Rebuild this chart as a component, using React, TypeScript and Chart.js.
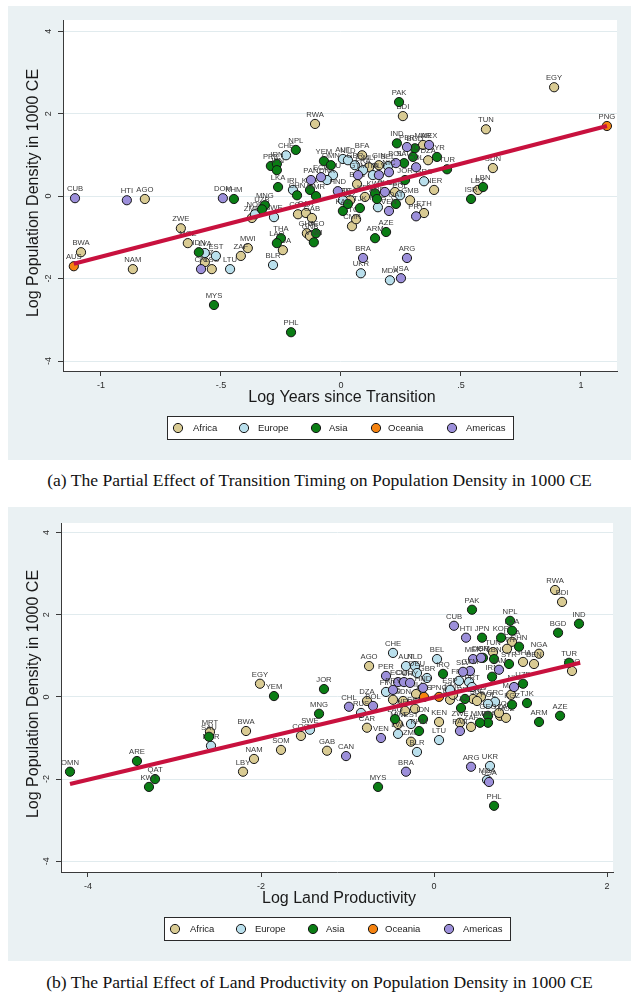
import React, { useEffect, useRef } from "react";
import { Chart, registerables } from "chart.js";

Chart.register(...registerables);

// ---------- shared categories / ticks ----------
const REGIONS = ["Africa", "Europe", "Asia", "Oceania", "Americas"];
const REGION_COLORS = ["#D9CB93", "#B9DFEC", "#0A7D14", "#F5820F", "#9C8FDA"];

const yTickValues = [-4, -2, 0, 2, 4];
const yTickLabels = ["-4", "-2", "0", "2", "4"];
const transTickValues = [-1, -0.5, 0, 0.5, 1];
const transTickLabels = ["-1", "-.5", "0", ".5", "1"];
const landTickValues = [-4, -2, 0, 2];
const landTickLabels = ["-4", "-2", "0", "2"];

// ---------- panel (a): transition timing ----------
const transCodes = [
  "CUB", "HTI", "DOM", "CRI", "PAN", "ECU", "HND", "GTM", "SLV", "NIC", "BOL", "PER", "MEX", "COL", "CHL", "VEN", "PRY", "BRA", "ARG", "USA",
  "AUS", "PNG",
  "AGO", "RWA", "BDI", "EGY", "TUN", "SDN", "LBY", "NER", "DZA", "MAR", "ETH", "BFA", "GIN", "MLI", "ZWE", "MOZ", "BWA", "NAM", "SWZ", "LSO", "ZAF", "MWI", "ZMB", "UGA", "COG", "CAR", "GAB", "GHA", "GNB", "CMR", "TCD", "KEN", "TGO", "GMB", "SEN", "BEN",
  "CHE", "IRL", "NOR", "SWE", "LVA", "EST", "LTU", "BLR", "UKR", "MDA", "AUT", "DEU", "DNK", "BEL", "NLD", "GBR", "FRA", "ITA", "ESP", "RUS", "GRC", "POL",
  "KHM", "NPL", "PRK", "IRN", "JPN", "LKA", "CHN", "KOR", "MMR", "MNG", "UZB", "IDN", "THA", "LAO", "MYS", "PHL", "GEO", "VNM", "YEM", "OMN", "PAK", "IND", "BGD", "IRQ", "SYR", "TUR", "SAU", "JOR", "KWT", "ARE", "QAT", "KAZ", "KGZ", "TJK", "ARM", "AZE", "LBN", "ISR",
];
const transX = [
  -1.108, -0.892, -0.492, -0.583, -0.125, -0.083, -0.013, 0.071, 0.158, 0.2, 0.229, 0.275, 0.367, 0.313, 0.183, 0.2, 0.313, 0.092, 0.275, 0.25,
  -1.113, 1.108,
  -0.817, -0.108, 0.258, 0.888, 0.604, 0.633, 0.571, 0.388, 0.363, 0.342, 0.346, 0.088, 0.158, 0.117, -0.667, -0.638, -1.083, -0.867, -0.567, -0.538, -0.417, -0.388, -0.371, -0.242, -0.179, -0.146, -0.121, -0.142, -0.129, 0.046, 0.063, 0.1, 0.038, 0.288, 0.225, 0.067,
  -0.229, -0.2, -0.358, -0.279, -0.567, -0.521, -0.462, -0.283, 0.083, 0.204, 0.008, -0.033, -0.058, 0.196, 0.029, 0.058, 0.092, 0.133, 0.008, 0.154, 0.346, 0.246,
  -0.446, -0.188, -0.292, -0.267, -0.267, -0.262, -0.183, -0.129, -0.104, -0.317, -0.329, -0.592, -0.25, -0.267, -0.529, -0.208, -0.104, -0.113, -0.071, -0.042, 0.242, 0.233, 0.308, 0.3, 0.4, 0.442, 0.263, 0.267, 0.142, 0.15, 0.229, 0.008, 0.029, 0.079, 0.142, 0.188, 0.592, 0.542,
];
const transY = [
  -0.05, -0.1, -0.05, -1.77, 0.39, 0.46, 0.12, 0.51, 0.51, 0.58, 0.8, 1.19, 1.24, 0.7, 0.1, -0.36, -0.49, -1.5, -1.5, -1.99,
  -1.7, 1.7,
  -0.07, 1.75, 1.94, 2.64, 1.62, 0.68, 0.15, 0.15, 0.87, 1.24, -0.41, 0.99, 0.75, 0.7, -0.78, -1.14, -1.36, -1.77, -1.6, -1.77, -1.45, -1.26, -0.53, -1.31, -0.44, -0.41, -0.53, -0.9, -0.97, -0.73, -0.56, -0.02, -0.1, -0.1, 0.1, 0.29,
  0.99, 0.15, -0.44, -0.51, -1.38, -1.45, -1.77, -1.67, -1.87, -2.04, 0.9, 0.51, 0.39, 0.73, 0.87, 0.75, 0.63, 0.51, -0.1, -0.27, 0.36, 0.02,
  -0.07, 1.12, 0.73, 0.78, 0.63, 0.22, 0.02, 0.15, 0.0, -0.22, -0.32, -1.36, -1.02, -1.14, -2.64, -3.3, -0.9, -1.12, 0.85, 0.75, 2.28, 1.28, 1.16, 0.95, 0.95, 0.65, 0.8, 0.39, 0.07, -0.07, -0.19, -0.36, -0.19, -0.29, -1.02, -0.87, 0.22, -0.07,
];
const transRegion = [
  ...Array(20).fill("Americas"),
  "Oceania", "Oceania",
  ...Array(36).fill("Africa"),
  ...Array(22).fill("Europe"),
  ...Array(38).fill("Asia"),
];
const transFitX = [-1.113, 1.108];
const transFitY = [-1.64, 1.7];

// ---------- panel (b): land productivity ----------
const landCodes = [
  "OMN", "ARE", "QAT", "KWT", "SAU", "YEM", "MNG", "JOR", "MYS", "PAK", "NPL", "LKA", "JPN", "KOR", "CHN", "BGD", "IND", "TUR", "AZE", "ARM", "PHL", "IRQ", "IDN", "LAO", "KHM", "SYR", "LBN", "ISR", "IRN", "UZB", "TJK", "KGZ", "GEO", "THA", "MMR", "KAZ", "PRK",
  "EGY", "MRT", "BWA", "NAM", "LBY", "SOM", "COG", "GAB", "AGO", "DZA", "CAR", "TCD", "SDN", "MLI", "NER", "SEN", "MWI", "ZMB", "KEN", "RWA", "BDI", "NGA", "BEN", "GHA", "UGA", "ETH", "TUN", "TGO", "MAR", "TZA", "MOZ", "CIV", "GIN", "ZAF", "ZWE", "BFA", "CMR", "SLE", "LSO",
  "NOR", "SWE", "RUS", "CHE", "AUT", "NLD", "DEU", "GBR", "BEL", "FIN", "LVA", "EST", "BLR", "LTU", "UKR", "MDA", "FRA", "ITA", "ESP", "PRT", "GRC", "POL",
  "CUB", "HTI", "CHL", "BOL", "CAN", "VEN", "PER", "BRA", "ARG", "USA", "ECU", "COL", "URY", "PRY", "HND", "MEX", "DOM", "GTM", "SLV", "JAM", "NIC", "PAN",
  "AUS", "PNG",
];
const landX = [
  -4.208, -3.434, -3.225, -3.295, -2.601, -1.85, -1.329, -1.272, -0.647, 0.439, 0.879, 0.902, 0.555, 0.775, 0.983, 1.434, 1.676, 1.561, 1.457, 1.214, 0.694, 0.104, -0.127, -0.451, -0.173, 0.867, 0.694, 0.566, 0.671, 1.029, 1.075, 0.902, 0.624, 0.624, 0.532, 0.312, 0.358,
  -2.012, -2.59, -2.173, -2.081, -2.208, -1.769, -1.538, -1.237, -0.751, -0.775, -0.775, -0.474, -0.358, -0.208, -0.335, -0.22, -0.416, -0.266, 0.058, 1.399, 1.48, 1.214, 1.156, 1.029, 0.902, 0.844, 0.682, 1.595, 0.89, 0.763, 0.832, 0.543, 0.451, 0.428, 0.3, 0.185, 0.22, 0.497, 0.751,
  -2.578, -1.434, -0.844, -0.474, -0.324, -0.22, -0.197, -0.081, 0.035, -0.555, -0.416, -0.266, -0.197, 0.058, 0.647, 0.613, 0.289, 0.405, 0.185, 0.439, 0.705, 0.624,
  0.231, 0.37, -0.983, -0.705, -1.017, -0.613, -0.555, -0.324, 0.428, 0.636, -0.416, -0.347, -0.277, -0.474, -0.127, 0.451, 0.543, 0.416, 0.335, 0.751, 0.925, 0.3,
  -0.116, 0.058,
];
const landY = [
  -1.82, -1.56, -2.0, -2.19, -0.97, 0.02, -0.41, 0.19, -2.19, 2.12, 1.85, 1.61, 1.44, 1.44, 1.22, 1.56, 1.78, 0.83, -0.46, -0.61, -2.65, 0.56, -0.54, -0.54, -0.83, 0.8, 0.92, 0.95, 0.49, 0.32, -0.15, -0.19, -0.46, -0.63, -0.63, -0.27, -0.05,
  0.32, -0.85, -0.83, -1.51, -1.82, -1.29, -0.95, -1.31, 0.75, -0.1, -0.75, -0.07, -0.1, 0.07, -0.34, -0.29, -0.66, -1.09, -0.61, 2.6, 2.31, 1.05, 0.8, 0.85, 1.34, 1.17, 1.09, 0.63, 0.05, -0.46, -0.51, 0.0, -0.05, -0.73, -0.63, -0.07, 0.05, -0.1, -0.39,
  -1.19, -0.8, -0.39, 1.07, 0.75, 0.75, 0.58, 0.46, 0.92, 0.12, -0.9, -0.66, -1.34, -1.05, -1.68, -2.02, 0.39, 0.36, 0.17, 0.24, -0.12, -0.17,
  1.73, 1.44, -0.24, -0.22, -1.44, -1.0, 0.51, -1.82, -1.7, -2.07, 0.36, 0.36, 0.34, 0.17, 0.22, 0.92, 0.95, 0.63, 0.61, 0.66, 0.24, -0.83,
  0.0, 0.0,
];
const landRegion = [
  ...Array(37).fill("Asia"),
  ...Array(39).fill("Africa"),
  ...Array(22).fill("Europe"),
  ...Array(22).fill("Americas"),
  "Oceania", "Oceania",
];
const landFitX = [-4.208, 1.69];
const landFitY = [-2.12, 0.83];

// ---------- styling ----------
const PANEL_BG = "#EAF1F3";
const GRID_COLOR = "#E1EBEE";
const AXIS_COLOR = "#3a3a3a";
const LINE_COLOR = "#C8113E";
const SANS = "'Liberation Sans', Arial, sans-serif";
const W = 623;
const H = 454;

type Area = { left: number; top: number; right: number; bottom: number };

type PanelProps = {
  codes: string[];
  xs: number[];
  ys: number[];
  regions: string[];
  fitX: number[];
  fitY: number[];
  xMin: number;
  xMax: number;
  yMin: number;
  yMax: number;
  xTickValues: number[];
  xTickLabels: string[];
  xTitle: string;
  area: Area;
  legendLeft: number;
};

function Panel(props: PanelProps) {
  const ref = useRef<HTMLCanvasElement | null>(null);

  useEffect(() => {
    const canvas = ref.current;
    if (!canvas) return;
    const { codes, xs, ys, regions, fitX, fitY, area } = props;

    const datasets: any[] = REGIONS.map((r, i) => {
      const idx = regions.map((g, k) => (g === r ? k : -1)).filter((k) => k >= 0);
      return {
        type: "scatter",
        label: r,
        data: idx.map((k) => ({ x: xs[k], y: ys[k], code: codes[k] })),
        backgroundColor: REGION_COLORS[i],
        borderColor: "#151515",
        borderWidth: 1,
        pointRadius: 4.6,
        order: 5 - i,
      };
    });
    datasets.push({
      type: "scatter",
      label: "fit",
      data: fitX.map((x, k) => ({ x, y: fitY[k] })),
      showLine: true,
      borderColor: LINE_COLOR,
      backgroundColor: LINE_COLOR,
      borderWidth: 4,
      pointRadius: 0,
      order: 0,
    });

    const deco = {
      id: "deco",
      beforeDraw(chart: any) {
        const { ctx, chartArea } = chart;
        ctx.save();
        ctx.fillStyle = PANEL_BG;
        ctx.fillRect(0, 0, W, H);
        ctx.fillStyle = "#ffffff";
        ctx.fillRect(chartArea.left, chartArea.top, chartArea.right - chartArea.left, chartArea.bottom - chartArea.top);
        ctx.restore();
      },
      afterDatasetDraw(chart: any, args: any) {
        const ds = chart.data.datasets[args.index];
        if (ds.label === "fit") return;
        const ctx = chart.ctx;
        ctx.save();
        ctx.font = `7.7px ${SANS}`;
        ctx.fillStyle = "#3a3a3a";
        ctx.textAlign = "center";
        ctx.textBaseline = "alphabetic";
        args.meta.data.forEach((el: any, k: number) => {
          ctx.fillText(ds.data[k].code, el.x, el.y - 7);
        });
        ctx.restore();
      },
      afterDraw(chart: any) {
        const { ctx, chartArea, scales } = chart;
        ctx.save();
        ctx.fillStyle = "#2a2a2a";
        // tick labels
        ctx.font = `9px ${SANS}`;
        ctx.textAlign = "center";
        ctx.textBaseline = "middle";
        props.xTickValues.forEach((v, k) => {
          ctx.fillText(props.xTickLabels[k], scales.x.getPixelForValue(v), chartArea.bottom + 15);
        });
        yTickValues.forEach((v, k) => {
          ctx.save();
          ctx.translate(chartArea.left - 14, scales.y.getPixelForValue(v));
          ctx.rotate(-Math.PI / 2);
          ctx.fillText(yTickLabels[k], 0, 0);
          ctx.restore();
        });
        // axis titles
        ctx.fillStyle = "#1a1a1a";
        ctx.font = `16px ${SANS}`;
        ctx.fillText(props.xTitle, (chartArea.left + chartArea.right) / 2 + 2, 392);
        ctx.save();
        ctx.translate(25.5, 187);
        ctx.rotate(-Math.PI / 2);
        ctx.fillText("Log Population Density in 1000 CE", 0, 0);
        ctx.restore();
        // legend
        const L = props.legendLeft;
        const top = 410;
        const h = 23;
        ctx.fillStyle = "#ffffff";
        ctx.fillRect(L, top, 346, h);
        ctx.strokeStyle = "#2a2a2a";
        ctx.lineWidth = 1;
        ctx.strokeRect(L + 0.5, top + 0.5, 346, h);
        const circleX = [11, 77, 149, 209, 285];
        const textX = [26, 91, 162, 221, 299];
        ctx.font = `9.5px ${SANS}`;
        ctx.textAlign = "left";
        ctx.textBaseline = "middle";
        REGIONS.forEach((r, i) => {
          const cy = top + h / 2 + 0.5;
          ctx.beginPath();
          ctx.arc(L + circleX[i], cy, 4.6, 0, Math.PI * 2);
          ctx.fillStyle = REGION_COLORS[i];
          ctx.fill();
          ctx.strokeStyle = "#151515";
          ctx.stroke();
          ctx.fillStyle = "#1a1a1a";
          ctx.fillText(r, L + textX[i], cy);
        });
        ctx.restore();
      },
    };

    const chart = new Chart(canvas, {
      type: "scatter",
      data: { datasets },
      options: {
        animation: false,
        responsive: false,
        devicePixelRatio: 1,
        events: [],
        layout: { padding: { top: area.top, right: W - area.right, left: 0, bottom: 0 } },
        plugins: { legend: { display: false }, tooltip: { enabled: false } },
        scales: {
          x: {
            type: "linear",
            position: "bottom",
            min: props.xMin,
            max: props.xMax,
            afterBuildTicks: (s: any) => {
              s.ticks = props.xTickValues.map((v) => ({ value: v }));
            },
            afterFit: (s: any) => {
              s.height = H - area.bottom;
            },
            ticks: { display: false },
            grid: { drawOnChartArea: false, drawTicks: true, tickLength: 5, color: AXIS_COLOR, tickColor: AXIS_COLOR },
            border: { display: true, color: AXIS_COLOR, width: 1 },
          },
          y: {
            type: "linear",
            position: "left",
            min: props.yMin,
            max: props.yMax,
            afterBuildTicks: (s: any) => {
              s.ticks = yTickValues.map((v) => ({ value: v }));
            },
            afterFit: (s: any) => {
              s.width = area.left;
            },
            ticks: { display: false },
            grid: { color: GRID_COLOR, tickColor: AXIS_COLOR, tickLength: 5, lineWidth: 1, drawTicks: true },
            border: { display: true, color: AXIS_COLOR, width: 1 },
          },
        },
      } as any,
      plugins: [deco as any],
    } as any);

    return () => chart.destroy();
  }, []);

  return <canvas ref={ref} width={W} height={H} style={{ display: "block", width: W, height: H }} />;
}

const captionStyle: React.CSSProperties = {
  position: "absolute",
  left: 0,
  width: 639,
  textAlign: "center",
  fontFamily: "'Liberation Serif', 'Times New Roman', serif",
  fontSize: 17.6,
  lineHeight: "20px",
  color: "#111",
  whiteSpace: "nowrap",
};

export default function App() {
  return (
    <div style={{ position: "absolute", left: 0, top: 0, width: 639, height: 993, background: "#ffffff" }}>
      <div style={{ position: "absolute", left: 8, top: 6 }}>
        <Panel
          codes={transCodes}
          xs={transX}
          ys={transY}
          regions={transRegion}
          fitX={transFitX}
          fitY={transFitY}
          xMin={-1.158}
          xMax={1.15}
          yMin={-4.24}
          yMax={4.27}
          xTickValues={transTickValues}
          xTickLabels={transTickLabels}
          xTitle="Log Years since Transition"
          area={{ left: 55, top: 14, right: 609, bottom: 365 }}
          legendLeft={159}
        />
      </div>
      <div style={{ ...captionStyle, top: 470 }}>
        (a) The Partial Effect of Transition Timing on Population Density in 1000 CE
      </div>
      <div style={{ position: "absolute", left: 8, top: 507 }}>
        <Panel
          codes={landCodes}
          xs={landX}
          ys={landY}
          regions={landRegion}
          fitX={landFitX}
          fitY={landFitY}
          xMin={-4.312}
          xMax={2.069}
          yMin={-4.26}
          yMax={4.23}
          xTickValues={landTickValues}
          xTickLabels={landTickLabels}
          xTitle="Log Land Productivity"
          area={{ left: 53, top: 16, right: 605, bottom: 365 }}
          legendLeft={156}
        />
      </div>
      <div style={{ ...captionStyle, top: 972 }}>
        (b) The Partial Effect of Land Productivity on Population Density in 1000 CE
      </div>
    </div>
  );
}
